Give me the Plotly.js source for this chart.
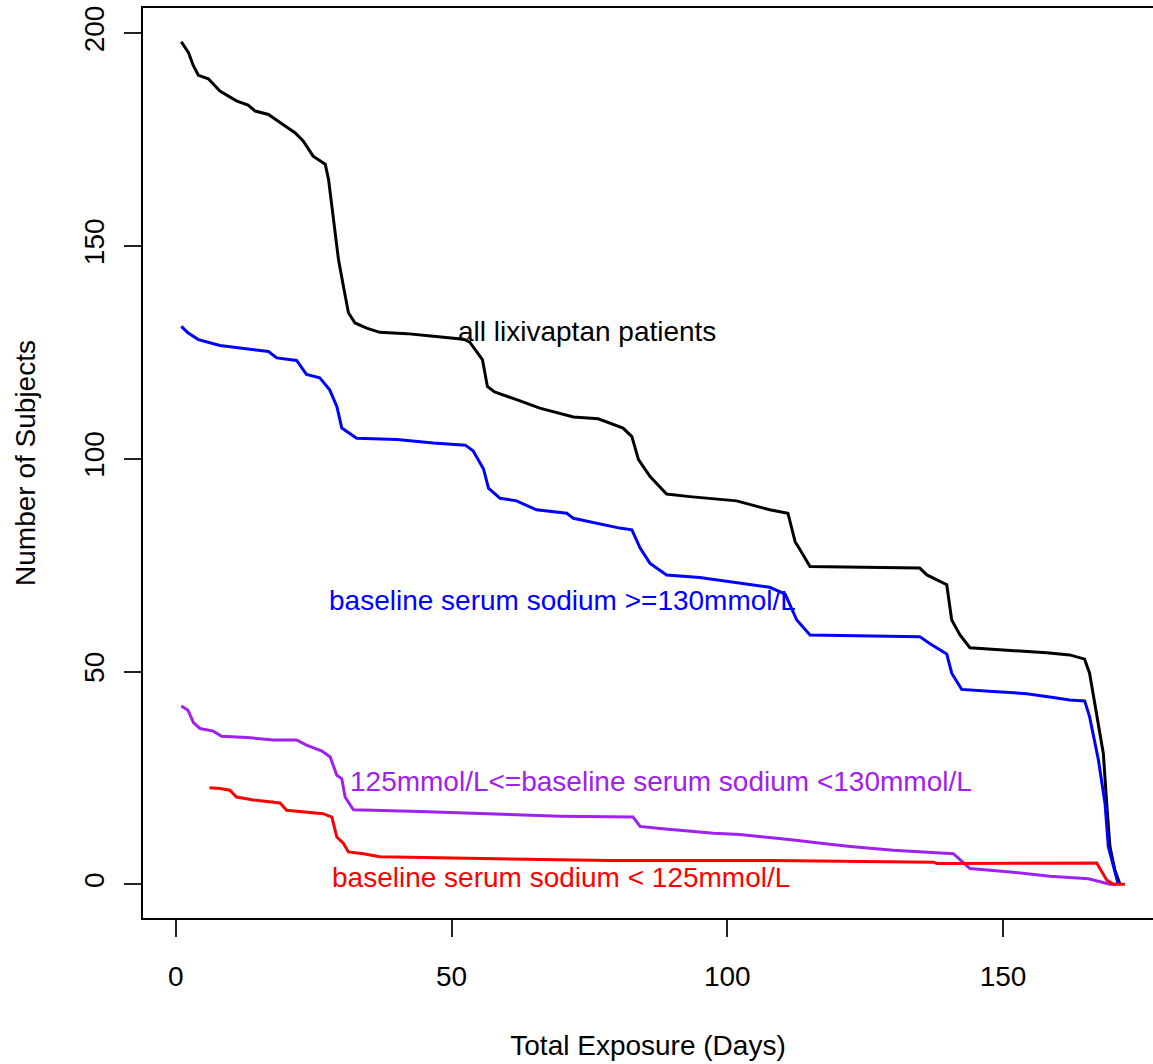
<!DOCTYPE html>
<html>
<head>
<meta charset="utf-8">
<script src="https://cdn.plot.ly/plotly-3.0.1.min.js"></script>
<style>
  html, body { margin: 0; padding: 0; background: #ffffff; overflow: hidden; }
  #chart { width: 1153px; height: 1064px; }
</style>
</head>
<body>
<div id="chart"></div>
<script>
// Number of subjects still on lixivaptan by total exposure, overall and by baseline serum sodium

const allDays = [1, 2.3, 3.2, 4.1, 5.9, 8.0, 11.0, 13.1, 14.4, 16.8, 18.9, 21.6, 23.1, 24.9, 27.1, 27.7,
  28.6, 29.5, 30.4, 31.3, 32.5, 34.6, 37.0, 41.9, 46.7, 52.2, 53.3, 55.6, 56.5, 57.8, 61.8, 66.0,
  72.1, 76.6, 81.1, 82.7, 83.9, 86.0, 89.0, 93.2, 101.7, 107.7, 111.0, 112.3, 113.2, 115.0, 124.7,
  134.9, 136.2, 139.8, 140.7, 142.2, 144.0, 148.8, 157.9, 162.1, 164.8, 165.7, 167.0, 168.2, 168.8,
  169.4, 170.3, 171.2];
const allSubjects = [198, 195.4, 192.3, 190.1, 189.3, 186.4, 184.1, 183.1, 181.7, 180.9, 179.0, 176.6,
  174.7, 171.1, 169.2, 165.6, 156.2, 146.8, 140.5, 134.3, 131.9, 130.7, 129.7, 129.4, 128.8, 128.1,
  127.4, 123.3, 117.0, 115.7, 113.9, 111.9, 109.8, 109.4, 107.2, 105.2, 99.8, 95.8, 91.7, 91.1, 90.1,
  88.0, 87.2, 80.5, 78.6, 74.7, 74.5, 74.3, 72.7, 70.4, 62.1, 58.6, 55.6, 55.2, 54.4, 53.9, 52.9,
  49.6, 40.0, 30.7, 19.0, 8.8, 3.3, 0];

const highDays = [1, 2.2, 4.1, 8.0, 13.1, 16.8, 18.3, 21.9, 23.7, 26.1, 27.9, 29.2, 30.1, 32.8, 40.1,
  46.7, 52.5, 53.9, 55.8, 56.7, 58.8, 61.8, 65.4, 70.9, 72.1, 80.5, 82.7, 84.2, 86.0, 89.0, 95.0,
  101.7, 107.7, 110.5, 112.6, 115.0, 124.7, 134.9, 136.7, 139.8, 140.7, 142.5, 148.2, 154.3, 159.1,
  162.1, 164.8, 165.7, 167.3, 168.5, 169.1, 170.3, 170.9];
const highSubjects = [131.1, 129.6, 128.0, 126.6, 125.8, 125.2, 123.7, 123.1, 119.8, 119.0, 116.2,
  112.3, 107.2, 104.8, 104.5, 103.7, 103.2, 101.9, 97.6, 93.1, 90.7, 90.1, 88.0, 87.2, 86.0, 83.7,
  83.3, 79.0, 75.4, 72.7, 72.1, 70.9, 69.8, 68.2, 62.1, 58.6, 58.4, 58.2, 56.6, 54.1, 49.6, 45.8,
  45.3, 44.8, 43.9, 43.3, 43.1, 39.4, 29.2, 19.0, 8.8, 2.5, 0];

const midDays = [1, 2.2, 3.2, 4.4, 6.8, 8.3, 12.9, 17.7, 21.9, 23.7, 26.5, 28.0, 29.2, 30.1, 30.7,
  32.2, 44.3, 57.0, 69.7, 82.9, 84.2, 87.8, 92.6, 97.5, 102.3, 107.1, 112.0, 117.4, 122.3, 130.1,
  137.4, 141.0, 144.0, 151.3, 158.5, 164.0, 165.5, 169.4, 170.5];
const midSubjects = [41.9, 40.9, 38.0, 36.6, 36.0, 34.8, 34.5, 33.9, 33.9, 32.7, 31.3, 29.9, 25.6,
  24.8, 20.5, 17.5, 17.1, 16.5, 16.0, 15.8, 13.6, 13.1, 12.5, 12.0, 11.7, 11.1, 10.4, 9.6, 8.9, 8.0,
  7.4, 7.2, 3.7, 2.9, 1.9, 1.3, 1.3, 0, 0];

const lowDays = [6.1, 8.0, 9.8, 11.0, 14.1, 16.5, 18.9, 20.1, 23.7, 26.7, 28.3, 29.2, 30.4, 31.3,
  34.0, 37.0, 58.1, 78.7, 108.0, 137.4, 138.0, 167.0, 168.8, 170.0, 172.1];
const lowSubjects = [22.7, 22.5, 22.1, 20.5, 19.8, 19.4, 19.1, 17.4, 17.0, 16.6, 15.8, 11.1, 9.6, 7.6,
  7.2, 6.5, 6.0, 5.6, 5.6, 5.2, 4.9, 5.0, 1.0, 0, 0];

const seriesNames = ["all lixivaptan patients", "baseline serum sodium >=130mmol/L",
  "125mmol/L<=baseline serum sodium <130mmol/L", "baseline serum sodium < 125mmol/L"];
const seriesColors = ["#000000", "#0000ff", "#a020f0", "#ff0000"];
// where each curve's label sits, in data units
const labelDays = [74.6, 70.1, 88.0, 69.8];
const labelSubjects = [129.9, 66.8, 24.2, 1.6];

const xTicks = [0, 50, 100, 150];
const yTicks = [0, 50, 100, 150, 200];

const FONT = "Liberation Sans, Arial, sans-serif";
const xs = [allDays, highDays, midDays, lowDays];
const ys = [allSubjects, highSubjects, midSubjects, lowSubjects];

const traces = xs.map((x, i) => ({
  type: "scatter",
  mode: "lines",
  x: x,
  y: ys[i],
  name: seriesNames[i],
  line: { color: seriesColors[i], width: 3 },
  hoverinfo: "x+y+name"
}));

const annotations = seriesNames.map((t, i) => ({
  x: labelDays[i], y: labelSubjects[i], xref: "x", yref: "y",
  text: t, showarrow: false,
  font: { family: FONT, size: 28, color: seriesColors[i] },
  xanchor: "center", yanchor: "middle"
}));

const layout = {
  width: 1153,
  height: 1064,
  margin: { l: 143, r: 0, t: 8, b: 146 },
  paper_bgcolor: "#ffffff",
  plot_bgcolor: "#ffffff",
  showlegend: false,
  font: { family: FONT, size: 28, color: "#000000" },
  xaxis: {
    range: [-5.95, 177.2],
    tickvals: xTicks,
    ticktext: xTicks.map(String),
    ticks: "outside", ticklen: 17, tickwidth: 2, tickcolor: "#222222",
    ticklabelstandoff: 15,
    showline: true, linecolor: "#000000", linewidth: 2, mirror: true,
    showgrid: false, zeroline: false,
    tickfont: { family: FONT, size: 28, color: "#000000" },
    title: { text: "Total Exposure (Days)", standoff: 45, font: { family: FONT, size: 28, color: "#000000" } }
  },
  yaxis: {
    range: [-7.92, 205.92],
    tickvals: yTicks,
    ticktext: yTicks.map(String),
    tickangle: -90,
    ticks: "outside", ticklen: 17, tickwidth: 2, tickcolor: "#222222",
    ticklabelstandoff: 9,
    showline: true, linecolor: "#000000", linewidth: 2, mirror: false,
    showgrid: false, zeroline: false,
    tickfont: { family: FONT, size: 28, color: "#000000" },
    title: { text: "Number of Subjects", standoff: 35, font: { family: FONT, size: 28, color: "#000000" } }
  },
  annotations: annotations
};

Plotly.newPlot("chart", traces, layout, { displayModeBar: false, staticPlot: true });
</script>
</body>
</html>
